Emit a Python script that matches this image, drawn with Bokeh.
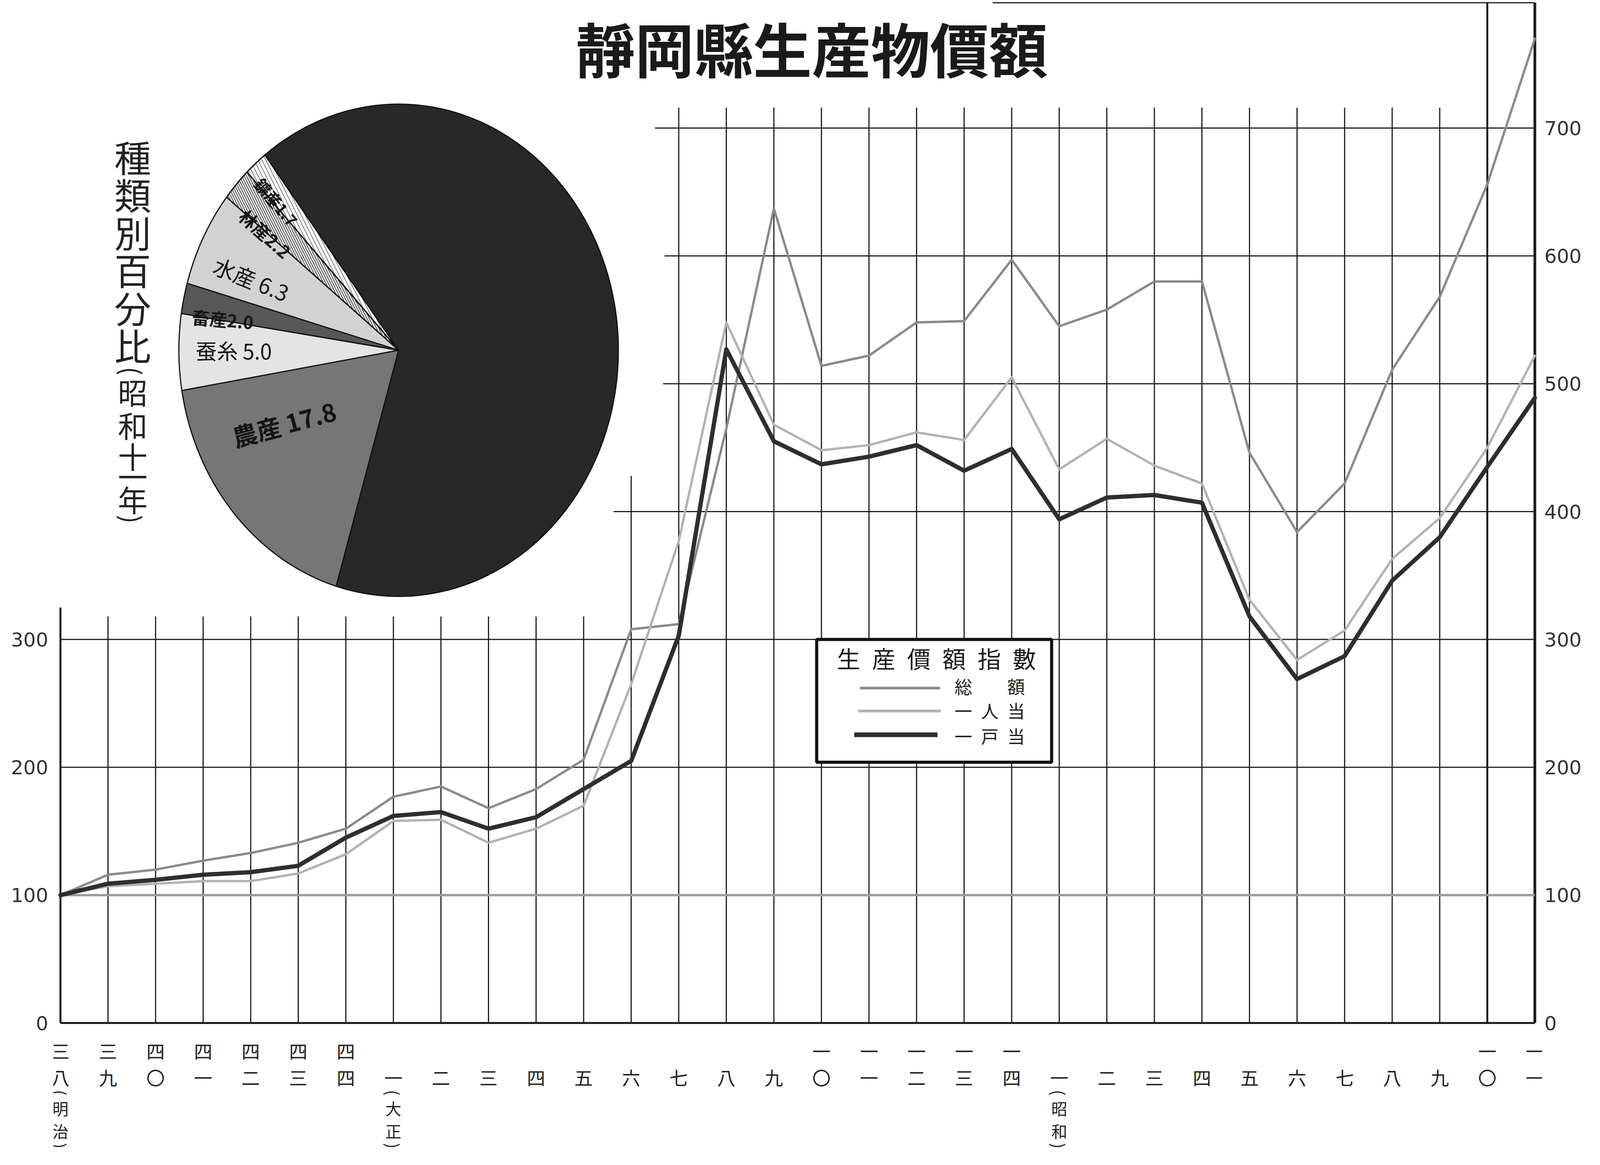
import math
from bokeh.plotting import figure
from bokeh.models import Range1d, LinearAxis, FixedTicker
from bokeh.core.properties import value
from bokeh.embed import file_html
from bokeh.resources import INLINE

# ---------------- data ----------------
year_labels = ["三八", "三九", "四〇", "四一", "四二", "四三", "四四",
               "一", "二", "三", "四", "五", "六", "七", "八", "九",
               "一〇", "一一", "一二", "一三", "一四",
               "一", "二", "三", "四", "五", "六", "七", "八", "九", "一〇", "一一"]
era_names = ["明治", "大正", "昭和"]
era_start = [0, 7, 21]

total_index = [100, 116, 120, 127, 133, 141, 152, 177, 185, 168, 183, 206, 308, 312,
               465, 637, 514, 522, 548, 549, 597, 545, 558, 580, 580, 446, 384, 422,
               511, 568, 656, 770]
per_person_index = [100, 107, 109, 111, 111, 117, 132, 158, 159, 141, 152, 170, 265, 377,
                    548, 468, 448, 452, 462, 456, 505, 433, 457, 436, 422, 331, 284, 307,
                    363, 395, 450, 522]
per_house_index = [100, 109, 112, 116, 118, 123, 145, 162, 165, 152, 161, 183, 205, 303,
                   527, 455, 437, 443, 452, 432, 449, 394, 411, 413, 407, 318, 269, 287,
                   346, 380, 435, 489]
series_names = ["総額", "一人当", "一戸当"]

pie_names = ["鑛産", "林産", "水産", "畜産", "蚕糸", "農産", "工産"]
pie_values = [1.7, 2.2, 6.3, 2.0, 5.0, 17.8, 65.0]

left_ticks = [0, 100, 200, 300]
right_ticks = [0, 100, 200, 300, 400, 500, 600, 700]

chart_title = "靜岡縣生産物價額"
pie_title = "種類別百分比(昭和十一年)"
legend_title = "生産價額指數"

# ---------------- figure ----------------
W, H = 4080, 2966
p = figure(width=W, height=H, x_range=Range1d(-0.15, 31.15), y_range=Range1d(-106.3, 800),
           output_backend="svg", toolbar_location=None,
           x_axis_location=None, y_axis_location=None,
           min_border_left=136, min_border_right=133, min_border_top=0, min_border_bottom=0)
p.outline_line_color = None
p.background_fill_color = "white"
p.border_fill_color = "white"
p.grid.grid_line_color = None

CJK = value("Noto Sans CJK JP")
INK = "#1c1c1c"
ROT = -math.pi / 2      # turns "(" / ")" into the arcs used in vertical writing

for ticks, side, stand in ((left_ticks, "left", 13), (right_ticks, "right", 6)):
    ax = LinearAxis(ticker=FixedTicker(ticks=ticks))
    ax.axis_line_color = None
    ax.major_tick_line_color = None
    ax.minor_tick_line_color = None
    ax.major_tick_out = 0
    ax.major_tick_in = 0
    ax.major_label_standoff = stand
    ax.major_label_text_font = "DejaVu Sans"
    ax.major_label_text_font_size = "50px"
    ax.major_label_text_color = "#333333"
    p.add_layout(ax, side)

n = len(year_labels)
xs = list(range(n))
last = n - 1


def vtop(i):
    if i == 0:
        return 325
    if i <= 11:
        return 318
    if i == 12:
        return 428
    if i < last - 1:
        return 716
    return 800


vx = [i for i in xs if 0 < i < last - 1]
p.segment(x0=vx, y0=[0] * len(vx), x1=vx, y1=[vtop(i) for i in vx], line_color=INK, line_width=3)
p.segment(x0=[0], y0=[0], x1=[0], y1=[vtop(0)], line_color=INK, line_width=5)
p.segment(x0=[last - 1, last], y0=[0, 0], x1=[last - 1, last], y1=[798, 798], line_color=INK,
          line_width=[5, 7])
p.segment(x0=[19.6], y0=[798], x1=[last], y1=[798], line_color=INK, line_width=3)

hy = [200, 300, 400, 500, 600, 700]
hx0 = [0, 0, 11.63, 12.67, 12.7, 12.5]
p.segment(x0=hx0, y0=hy, x1=[last] * len(hy), y1=hy, line_color=INK, line_width=3)
p.segment(x0=[0], y0=[0], x1=[last], y1=[0], line_color=INK, line_width=5)
p.segment(x0=[0], y0=[100], x1=[last], y1=[100], line_color="#9c9c9c", line_width=6)

# series
series_colors = ["#8a8a8a", "#b2b2b2", "#2e2e2e"]
series_widths = [6, 6, 11]
for vals, col, w in zip([total_index, per_person_index, per_house_index], series_colors, series_widths):
    p.line(xs, vals, line_color=col, line_width=w, line_join="round", line_cap="round")

# legend box
p.quad(left=[15.90], right=[20.84], bottom=[204], top=[300], fill_color="white",
       line_color="#111111", line_width=8)
p.text(x=[18.42], y=[285.6], text=["\u2002".join(legend_title)], text_font=CJK,
       text_font_size=value("60px"), text_color=INK, text_align="center", text_baseline="middle")
leg_y = [262, 244, 225.5]
p.segment(x0=[16.81, 16.77, 16.69], y0=leg_y, x1=[18.49, 18.51, 18.44], y1=leg_y,
          line_color=series_colors, line_width=[7, 7, 12])
leg_text = ["\u3000\u3000".join(series_names[0])] + ["\u2002".join(s) for s in series_names[1:]]
p.text(x=[18.80] * 3, y=[263.5, 244.5, 224.5], text=leg_text, text_font=CJK,
       text_font_size=value("45px"), text_color=INK, text_align="left", text_baseline="middle")

# pie chart (drawn in data units so it keeps the printed proportions)
cx, cy, rx, ry = 7.11, 526.2, 4.62, 192.5
start = 127.5
tot = sum(pie_values)
angs = [start]
for v in pie_values:
    angs.append(angs[-1] + v / tot * 360.0)


def slice_poly(a0, a1):
    steps = max(2, int(abs(a1 - a0)) + 1)
    px_, py_ = [cx], [cy]
    for k in range(steps + 1):
        a = math.radians(a0 + (a1 - a0) * k / steps)
        px_.append(cx + rx * math.cos(a))
        py_.append(cy + ry * math.sin(a))
    return px_, py_


polys = [slice_poly(a0, a1) for a0, a1 in zip(angs[:-1], angs[1:])]
pie_fill = ["#ffffff", "#f0f0f0", "#d2d2d2", "#575757", "#e4e4e4", "#767676", "#282828"]
p.patches(xs=[q[0] for q in polys], ys=[q[1] for q in polys], fill_color=pie_fill,
          line_color="#111111", line_width=3, line_join="round")
p.patches(xs=[polys[0][0], polys[1][0]], ys=[polys[0][1], polys[1][1]], fill_color=None,
          line_color="#111111", line_width=3, line_join="round",
          hatch_pattern="\\", hatch_color="#555555", hatch_scale=[20, 12], hatch_weight=[1.5, 2.2])

lab_ang = [132.7, 142, 156.5, 171, 180, 209.7]
lab_r = [0.82, 0.77, 0.73, 0.81, 0.75, 0.60]
lab_rot = [-50, -42, -22, -5, 0, 15]
lab_size = ["41px", "45px", "56px", "45px", "54px", "63px"]
lab_style = ["bold", "bold", "normal", "bold", "normal", "bold"]
lab_sep = ["", "", " ", "", " ", " "]
lab_text = [f"{nm}{sp}{v}" for nm, sp, v in zip(pie_names[:6], lab_sep, pie_values[:6])]
p.text(x=[cx + r * rx * math.cos(math.radians(a)) for r, a in zip(lab_r, lab_ang)],
       y=[cy + r * ry * math.sin(math.radians(a)) for r, a in zip(lab_r, lab_ang)],
       text=lab_text, angle=[math.radians(a) for a in lab_rot], text_font=CJK,
       text_font_size=lab_size, text_font_style=lab_style, text_color="#151515",
       text_align="center", text_baseline="middle")

# vertical caption of the pie
vt_chars = list(pie_title)
vt_y = [678, 648.5, 619, 589.5, 560, 530.5, 510, 494, 468, 444, 428, 410, 394]
vt_size = ["94px"] * 6 + ["66px", "76px", "76px", "76px", "76px", "76px", "66px"]
vt_ang = [ROT if c in "()" else 0 for c in vt_chars]
p.text(x=[1.52] * len(vt_chars), y=vt_y, text=vt_chars, angle=vt_ang, text_font=CJK,
       text_font_size=vt_size, text_color="#222222", text_align="center", text_baseline="middle")

# title
p.text(x=[15.8], y=[763.3], text=[chart_title], text_font=CJK, text_font_size=value("151px"),
       text_font_style="bold", text_color="#1a1a1a", text_align="center", text_baseline="middle")

# x labels: stacked kanji numerals
row1_x = [i for i, t in enumerate(year_labels) if len(t) == 2]
row1_t = [year_labels[i][0] for i in row1_x]
p.text(x=row1_x, y=[-21.4] * len(row1_x), text=row1_t, text_font=CJK, text_font_size=value("47px"),
       text_color="#222222", text_align="center", text_baseline="middle")
p.text(x=xs, y=[-42.2] * n, text=[t[-1] for t in year_labels], text_font=CJK,
       text_font_size=value("47px"), text_color="#222222", text_align="center", text_baseline="middle")
ex, ey, et, es, ea = [], [], [], [], []
for name, i in zip(era_names, era_start):
    for ch, yy, sz in zip(["(", name[0], name[1], ")"], [-54.5, -66.5, -84, -96],
                          ["42px", "41px", "41px", "42px"]):
        ex.append(i); ey.append(yy); et.append(ch); es.append(sz)
        ea.append(ROT if ch in "()" else 0)
p.text(x=ex, y=ey, text=et, angle=ea, text_font=CJK, text_font_size=es, text_color="#222222",
       text_align="center", text_baseline="middle")

open("out.html", "w").write(file_html(p, INLINE))
